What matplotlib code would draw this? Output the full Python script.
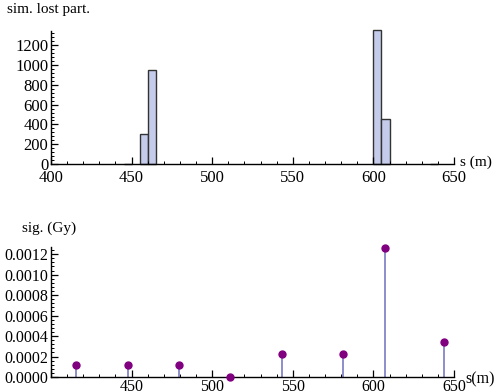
import matplotlib
matplotlib.use("Agg")
import matplotlib.pyplot as plt
from matplotlib.ticker import MultipleLocator

plt.rcParams['font.family'] = ['Liberation Serif', 'DejaVu Serif']

# Histogram of simulated lost particles
bin_left = [445, 455, 460, 600, 605, 635]
bin_counts = [4, 300, 955, 1360, 455, 4]
bin_width = 5

# Signal (Gy) at monitor positions
mon_s = [415.5, 447.5, 479.5, 511, 543, 581, 607.5, 644]
mon_sig = [0.000115, 0.000115, 0.000115, 0.0, 0.000227, 0.000227, 0.00126, 0.00034]

W, H = 498, 392
fig = plt.figure(figsize=(W/100, H/100), dpi=100)

def px_axes(x0, x1, ybot, ytop):
    return fig.add_axes([x0/W, (H-ybot)/H, (x1-x0)/W, (ybot-ytop)/H])

def style(ax, xpad):
    for s in ['top', 'right']:
        ax.spines[s].set_visible(False)
    for s in ['left', 'bottom']:
        ax.spines[s].set_linewidth(1.0)
        ax.spines[s].set_color('black')
    ax.tick_params(which='major', direction='in', length=5, width=0.9, pad=2)
    ax.tick_params(which='minor', direction='in', length=2.5, width=0.7)
    ax.tick_params(axis='x', which='major', pad=xpad)
    ax.set_facecolor('none')

# Top: histogram
ax1 = px_axes(51, 454, 164, 31)
ax1.bar(bin_left, bin_counts, width=bin_width, align='edge', color='#c5cbea',
        edgecolor='#333333', linewidth=1.0, clip_on=False)
ax1.set_xlim(400, 650)
ax1.set_ylim(0, 1345)
ax1.xaxis.set_major_locator(MultipleLocator(50))
ax1.xaxis.set_minor_locator(MultipleLocator(10))
ax1.yaxis.set_major_locator(MultipleLocator(200))
ax1.yaxis.set_minor_locator(MultipleLocator(40))
style(ax1, 4)
for lab in ax1.get_xticklabels() + ax1.get_yticklabels():
    lab.set_fontsize(12)
fig.text(7/W, 1 - 10/H, 'sim. lost part.', fontsize=11, va='center', ha='left')
fig.text(460/W, 1 - 162/H, 's (m)', fontsize=11, va='center', ha='left')

# Bottom: signal
ax2 = px_axes(51, 454, 377, 247)
ax2.vlines(mon_s, 0, mon_sig, color='#8585c6', linewidth=1.3, zorder=2)
ax2.plot(mon_s, mon_sig, 'o', color='#800080', markersize=5, clip_on=False, zorder=3)
ax2.set_xlim(400, 650)
ax2.set_ylim(0, 0.00127)
ax2.xaxis.set_minor_locator(MultipleLocator(10))
ax2.yaxis.set_minor_locator(MultipleLocator(0.00004))
style(ax2, 1.5)
ax2.set_yticks([0, 0.0002, 0.0004, 0.0006, 0.0008, 0.0010, 0.0012])
ax2.set_yticklabels(['0.0000', '0.0002', '0.0004', '0.0006', '0.0008', '0.0010', '0.0012'])
ax2.set_xticks([400, 450, 500, 550, 600, 650])
ax2.set_xticklabels(['', '450', '500', '550', '600', '650'])
for lab in ax2.get_xticklabels() + ax2.get_yticklabels():
    lab.set_fontsize(11.5)
fig.text(22/W, 1 - 228/H, 'sig. (Gy)', fontsize=11, va='center', ha='left')
fig.text(465/W, 1 - 379/H, 's(m)', fontsize=11.5, va='center', ha='left')

fig.savefig('out.png', dpi=100)
